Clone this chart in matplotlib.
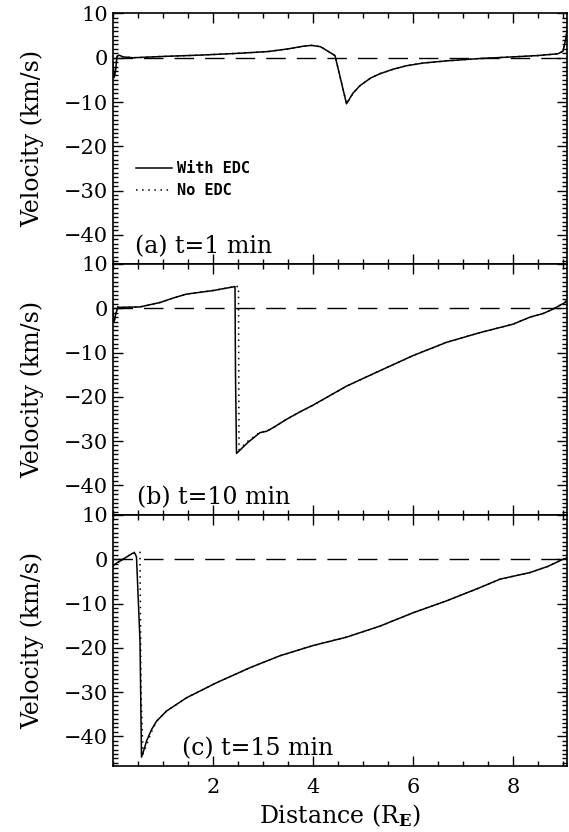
import numpy as np
import matplotlib
matplotlib.use('Agg')
import matplotlib.pyplot as plt
from matplotlib.ticker import MultipleLocator

plt.rcParams['font.family'] = 'DejaVu Serif'
plt.rcParams['mathtext.fontset'] = 'dejavuserif'

# t = 1 min
a_x = [0.0, 0.02, 0.05, 0.08, 0.12, 0.2, 0.4, 1.0, 1.75, 2.5, 3.1, 3.5, 3.8, 3.97, 4.15, 4.44,
       4.67, 4.8, 4.94, 5.15, 5.34, 5.6, 5.87, 6.2, 6.67, 7.3, 8.0, 8.5, 8.9, 9.0, 9.05, 9.08]
a_y = [-1.0, -4.5, -3.0, 0.3, 0.6, 0.2, 0.0, 0.3, 0.6, 1.0, 1.4, 2.0, 2.6, 2.8, 2.5, 0.5,
       -10.4, -8.0, -6.3, -4.6, -3.6, -2.6, -1.8, -1.2, -0.7, -0.2, 0.2, 0.5, 0.9, 1.5, 4.0, 6.0]
a_x_no = a_x
a_y_no = a_y

# t = 10 min
b_x = [0.0, 0.02, 0.05, 0.1, 0.14, 0.54, 0.94, 1.2, 1.47, 2.0, 2.44, 2.45, 2.47, 2.7, 2.94,
       3.07, 3.2, 3.47, 3.74, 4.0, 4.67, 5.34, 6.0, 6.67, 7.34, 8.0, 8.34, 8.6, 8.8, 9.04, 9.08]
b_y = [-1.0, -3.2, -1.5, 0.3, 0.2, 0.3, 1.3, 2.3, 3.2, 4.0, 4.9, -15.0, -32.8, -30.3, -28.1,
       -27.8, -27.0, -25.1, -23.4, -21.9, -17.6, -14.1, -10.7, -7.7, -5.5, -3.6, -2.0, -1.2, -0.2, 1.3, 2.0]
b_x_no = [0.0, 0.02, 0.05, 0.1, 0.14, 0.54, 0.94, 1.2, 1.47, 2.0, 2.44, 2.51, 2.52, 2.7, 2.94,
          3.07, 3.2, 3.47, 3.74, 4.0, 4.67, 5.34, 6.0, 6.67, 7.34, 8.0, 8.34, 8.6, 8.8, 9.04, 9.08]
b_y_no = [-1.0, -3.2, -1.5, 0.3, 0.2, 0.3, 1.3, 2.3, 3.2, 4.0, 4.9, 4.9, -32.0, -30.0, -28.0,
          -27.8, -27.0, -25.1, -23.4, -21.9, -17.6, -14.1, -10.7, -7.7, -5.5, -3.6, -2.0, -1.2, -0.2, 1.3, 2.0]

# t = 15 min
c_x = [0.0, 0.04, 0.2, 0.34, 0.4, 0.44, 0.47, 0.54, 0.57, 0.62, 0.67, 0.77, 0.87, 1.07, 1.47,
       2.07, 2.74, 3.34, 4.0, 4.67, 5.34, 6.0, 6.67, 7.34, 7.74, 8.34, 8.7, 9.0, 9.08]
c_y = [-1.5, -1.1, 0.0, 1.0, 1.4, 1.3, 0.5, -18.5, -44.7, -43.0, -41.1, -38.5, -36.6, -34.3, -31.3,
       -27.9, -24.5, -21.8, -19.5, -17.6, -15.1, -12.1, -9.4, -6.4, -4.5, -3.0, -1.6, 0.0, 0.3]
c_x_no = [0.0, 0.04, 0.2, 0.34, 0.4, 0.44, 0.54, 0.56, 0.6, 0.67, 0.77, 0.87, 1.07, 1.47,
          2.07, 2.74, 3.34, 4.0, 4.67, 5.34, 6.0, 6.67, 7.34, 7.74, 8.34, 8.7, 9.0, 9.08]
c_y_no = [-1.5, -1.1, 0.0, 1.0, 1.4, 1.6, 1.6, -30.0, -44.0, -42.0, -39.0, -36.6, -34.3, -31.3,
          -27.9, -24.5, -21.8, -19.5, -17.6, -15.1, -12.1, -9.4, -6.4, -4.5, -3.0, -1.6, 0.0, 0.3]

zero_x = [0.0, 9.0]
zero_y = [0.0, 0.0]

panels = [
    (a_x, a_y, a_x_no, a_y_no, '(a) t=1 min', 0.44),
    (b_x, b_y, b_x_no, b_y_no, '(b) t=10 min', 0.48),
    (c_x, c_y, c_x_no, c_y_no, '(c) t=15 min', 1.38),
]

fig = plt.figure(figsize=(5.69, 8.32), dpi=100)
left, width, h = 113 / 569, 454 / 569, 250.5 / 832
tops = [13.5, 264, 515]

for i, (x, y, xn, yn, label, lx) in enumerate(panels):
    ax = fig.add_axes([left, 1 - (tops[i] + 250.5) / 832, width, h])
    ax.plot(zero_x, zero_y, color='black', lw=1.0, dashes=(14, 8))
    ax.plot(xn, yn, color='black', lw=1.1, linestyle=(0, (1, 3)), label='No EDC')
    ax.plot(x, y, color='black', lw=1.1, label='With EDC')
    ax.set_xlim(0, 9.08)
    ax.set_ylim(-46.6, 10.0)
    ax.set_xticks([2, 4, 6, 8])
    ax.xaxis.set_minor_locator(MultipleLocator(0.5))
    ax.yaxis.set_minor_locator(MultipleLocator(1))
    ax.tick_params(which='both', direction='in', top=True, right=True, labelsize=15, width=1.0)
    ax.tick_params(which='major', length=7)
    ax.tick_params(which='minor', length=3.5)
    ax.tick_params(axis='x', pad=9)
    for s in ax.spines.values():
        s.set_linewidth(1.2)
    ax.set_ylabel('Velocity (km/s)', fontsize=17, labelpad=14)
    ax.text(lx, -42.8, label, fontsize=17, va='center', ha='left')
    ax.set_yticks([10, 0, -10, -20, -30, -40])
    ax.set_yticklabels(['10', '0', '\u221210', '\u221220', '\u221230', '\u221240'])
    if i < 2:
        ax.tick_params(labelbottom=False)
    else:
        ax.set_xlabel(r'Distance (R$_\mathbf{E}$)', fontsize=17, labelpad=4)
    if i == 0:
        h_, l_ = ax.get_legend_handles_labels()
        ax.legend([h_[1], h_[0]], [l_[1], l_[0]], loc='upper left', frameon=False,
                  bbox_to_anchor=(0.02, 0.465), handlelength=2.4, handletextpad=0.3,
                  labelspacing=0.45,
                  prop={'family': 'DejaVu Sans Mono', 'weight': 'bold', 'size': 11})

fig.savefig('out.png', dpi=100)
